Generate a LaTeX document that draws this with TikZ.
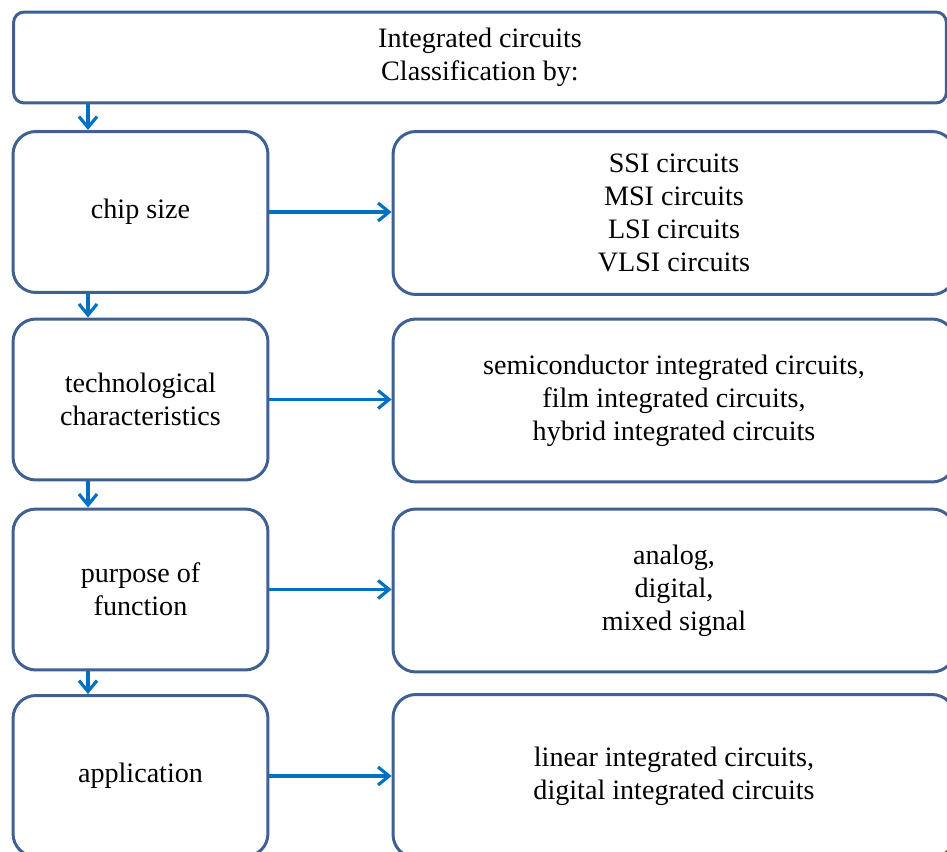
\documentclass[tikz,border=0pt]{standalone}
\usepackage{fontspec}
\setmainfont{Liberation Serif}
\usepackage{xcolor}
\usetikzlibrary{arrows.meta}
\definecolor{boxline}{RGB}{62,96,146}
\definecolor{arrowblue}{RGB}{0,112,192}

\begin{document}
\begin{tikzpicture}[x=0.02cm, y=-0.02cm,
  font=\fontsize{16}{18.8}\selectfont,
  head/.style={draw=boxline, line width=1.7pt, rounded corners=6pt, minimum width=18.66cm, minimum height=1.82cm, inner sep=0pt, align=center},
  crit/.style={draw=boxline, line width=1.7pt, rounded corners=13pt, minimum width=5.1cm, minimum height=3.22cm, inner sep=0pt, align=center},
  kind/.style={draw=boxline, line width=1.7pt, rounded corners=13pt, minimum width=11.24cm, minimum height=3.26cm, inner sep=0pt, align=center},
  link/.style={draw=arrowblue, line width=1.8pt, -{Straight Barb[length=2.2mm, width=3.6mm, line width=1.8pt]}}]
  \useasboundingbox (0,0) rectangle (947,852);
  \clip (0,0) rectangle (947,852);
  \node[head] (top) at (480,57.5) {Integrated circuits\\Classification by:};
  \node[crit] (size) at (140.5,212) {chip size};
  \node[crit] (tech) at (140.5,399.5) {technological\\characteristics};
  \node[crit] (purp) at (140.5,589.5) {purpose of\\function};
  \node[crit] (appl) at (140.5,776) {application};
  \node[kind] (sizek) at (674,213) {SSI circuits\\MSI circuits\\LSI circuits\\VLSI circuits};
  \node[kind] (techk) at (674,400.5) {semiconductor integrated circuits,\\film integrated circuits,\\hybrid integrated circuits};
  \node[kind] (purpk) at (674,590.5) {analog,\\digital,\\mixed signal};
  \node[kind] (applk) at (674,776) {linear integrated circuits,\\digital integrated circuits};
  % down the left column
  \draw[link] (top.south -| 88,0) -- (size.north -| 88,0);
  \draw[link] (size.south -| 88,0) -- (tech.north -| 88,0);
  \draw[link] (tech.south -| 88,0) -- (purp.north -| 88,0);
  \draw[link] (purp.south -| 88,0) -- (appl.north -| 88,0);
  % across to the kinds
  \foreach \a/\b in {size/sizek,tech/techk,purp/purpk,appl/applk} {\draw[link] (\a.east) -- (\a.east -| \b.west);}
\end{tikzpicture}
\end{document}
